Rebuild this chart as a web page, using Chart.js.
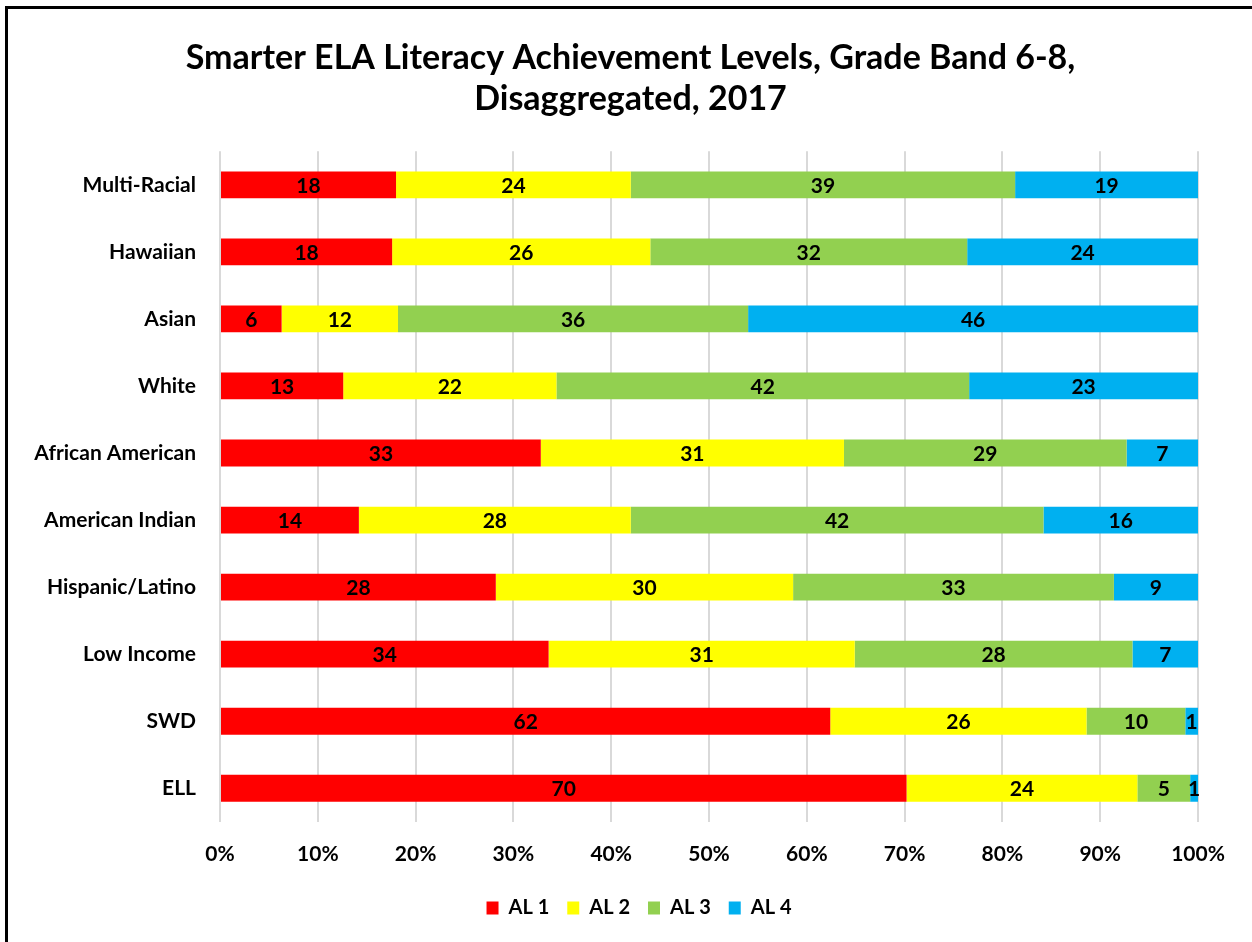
<!DOCTYPE html>
<html>
<head>
<meta charset="utf-8">
<script src="https://cdn.jsdelivr.net/npm/chart.js@4/dist/chart.umd.min.js"></script>
<style>
    html, body { margin: 0; padding: 0; background: #fff; overflow: hidden; }
    #frame {
        position: absolute; left: 5px; top: 6px; width: 1400px; height: 1100px;
        border-left: 3px solid #000; border-top: 3px solid #000; pointer-events: none;
    }
    #achievement_chart { position: absolute; left: 0; top: 0; }
</style>
</head>
<body>
<canvas id="achievement_chart" width="1252" height="942"></canvas>
<div id="frame"></div>
<script>
const groups = ['Multi-Racial', 'Hawaiian', 'Asian', 'White', 'African American',
    'American Indian', 'Hispanic/Latino', 'Low Income', 'SWD', 'ELL'];
const al1 = [18.0, 17.6, 6.3, 12.6, 32.8, 14.2, 28.2, 33.6, 62.4, 70.2];
const al2 = [24.0, 26.4, 11.9, 21.8, 31.0, 27.8, 30.4, 31.3, 26.2, 23.6];
const al3 = [39.3, 32.4, 35.8, 42.2, 28.9, 42.2, 32.8, 28.4, 10.1, 5.4];
const al4 = [18.7, 23.6, 46.0, 23.4, 7.3, 15.8, 8.6, 6.7, 1.3, 0.8];
const levelNames = ['AL 1', 'AL 2', 'AL 3', 'AL 4'];
const xTicks = [0, 10, 20, 30, 40, 50, 60, 70, 80, 90, 100];

const fontFamily = 'Lato, "Open Sans", sans-serif';
const colors = ['#FF0000', '#FFFF00', '#92D050', '#00B0F0'];

// draws the rounded value in the middle of each segment
const barLabels = {
    id: 'barLabels',
    afterDatasetsDraw(chart) {
        const ctx = chart.ctx;
        ctx.save();
        ctx.font = 'bold 21px ' + fontFamily;
        ctx.fillStyle = '#000';
        ctx.textAlign = 'center';
        ctx.textBaseline = 'middle';
        chart.data.datasets.forEach((ds, i) => {
            chart.getDatasetMeta(i).data.forEach((bar, j) => {
                const v = ds.data[j];
                ctx.fillText(String(Math.round(v)), (bar.x + bar.base) / 2, bar.y + 1);
            });
        });
        ctx.restore();
    }
};

// title and legend are centred on the whole frame, not on the padded box
const recenter = {
    id: 'recenter',
    afterLayout(chart) {
        if (chart.titleBlock) { chart.titleBlock.left = 9; chart.titleBlock.right = 1252; }
        if (chart.legend) {
            chart.legend.left = 26;
            chart.legend.right = 1252;
            chart.legend.top -= 7;
            chart.legend.bottom -= 7;
        }
    }
};

const ctx = document.getElementById('achievement_chart').getContext('2d');
new Chart(ctx, {
    type: 'bar',
    data: {
        labels: groups,
        datasets: [al1, al2, al3, al4].map((values, i) => ({
            label: levelNames[i],
            data: values,
            backgroundColor: colors[i],
            borderWidth: 0,
            categoryPercentage: 1,
            barPercentage: 0.4
        }))
    },
    options: {
        indexAxis: 'y',
        responsive: false,
        animation: false,
        layout: { padding: { left: 0, right: 54, top: 0, bottom: 7 } },
        scales: {
            x: {
                stacked: true,
                min: 0,
                max: 100,
                afterBuildTicks: scale => { scale.ticks = xTicks.map(v => ({ value: v })); },
                ticks: {
                    callback: v => v + '%',
                    color: '#000',
                    padding: 20,
                    maxRotation: 0,
                    font: { family: fontFamily, size: 21, weight: 'bold' }
                },
                grid: { color: '#D9D9D9', lineWidth: 2, drawTicks: false },
                border: { display: false }
            },
            y: {
                stacked: true,
                afterFit: scale => { scale.width = 220; },
                ticks: {
                    color: '#000',
                    padding: 24,
                    font: { family: fontFamily, size: 21, weight: 'bold' }
                },
                grid: { display: false, drawTicks: false },
                border: { display: false }
            }
        },
        plugins: {
            title: {
                display: true,
                text: ['Smarter ELA Literacy Achievement Levels, Grade Band 6-8,', 'Disaggregated, 2017'],
                color: '#000',
                font: { family: fontFamily, size: 34, weight: 'bold', lineHeight: 1.21 },
                padding: { top: 37, bottom: 32 }
            },
            legend: {
                position: 'bottom',
                labels: {
                    color: '#000',
                    boxWidth: 12,
                    boxHeight: 13,
                    padding: 18,
                    font: { family: fontFamily, size: 20, weight: 'bold' }
                }
            },
            tooltip: { enabled: false }
        }
    },
    plugins: [barLabels, recenter]
});
</script>
</body>
</html>
